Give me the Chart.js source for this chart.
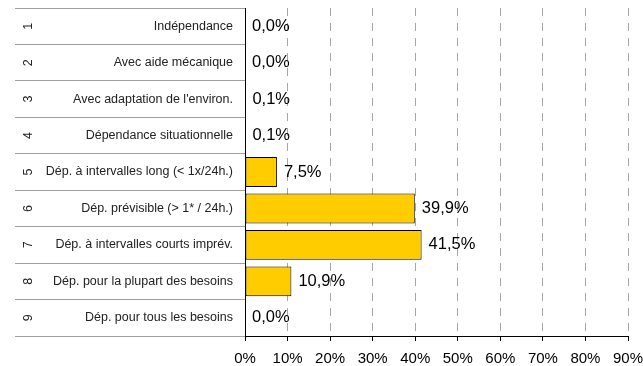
<!DOCTYPE html>
<html>
<head>
<meta charset="utf-8">
<script src="https://cdn.jsdelivr.net/npm/chart.js@4"></script>
<style>
	body { margin: 0; background: #fff; }
	canvas { display: block; }
</style>
</head>
<body>
<canvas id="canvas0" width="643" height="366"></canvas>
<script>
// data
const numbers = ['1', '2', '3', '4', '5', '6', '7', '8', '9'];
const categories = [
	'Indépendance',
	'Avec aide mécanique',
	"Avec adaptation de l'environ.",
	'Dépendance situationnelle',
	'Dép. à intervalles long (< 1x/24h.)',
	'Dép. prévisible (> 1* / 24h.)',
	'Dép. à intervalles courts imprév.',
	'Dép. pour la plupart des besoins',
	'Dép. pour tous les besoins'
];
const values = [0.0, 0.0, 0.1, 0.1, 7.5, 39.9, 41.5, 10.9, 0.0];
const xTicks = [0, 10, 20, 30, 40, 50, 60, 70, 80, 90];

const fontName = '"Liberation Sans", Arial, sans-serif';

// row numbers, rotated, in the left column
const rowNumbers = {
	id: 'rowNumbers',
	afterDraw(chart) {
		const ctx = chart.ctx;
		const yScale = chart.scales.y;
		ctx.save();
		ctx.fillStyle = '#222';
		ctx.font = '12.5px ' + fontName;
		ctx.textAlign = 'center';
		ctx.textBaseline = 'middle';
		numbers.forEach((n, i) => {
			ctx.save();
			ctx.translate(29, yScale.getPixelForValue(i));
			ctx.rotate(-Math.PI / 2);
			ctx.fillText(n, 0, 0);
			ctx.restore();
		});
		ctx.restore();
	}
};

// value labels at the end of the bars
const valueLabels = {
	id: 'valueLabels',
	afterDatasetsDraw(chart) {
		const ctx = chart.ctx;
		const meta = chart.getDatasetMeta(0);
		ctx.save();
		ctx.fillStyle = '#000';
		ctx.font = '16.5px ' + fontName;
		ctx.textAlign = 'left';
		ctx.textBaseline = 'middle';
		meta.data.forEach((bar, i) => {
			const txt = values[i].toFixed(1).replace('.', ',') + '%';
			ctx.fillText(txt, bar.x + 7, bar.y);
		});
		ctx.restore();
	}
};

const ctx = document.getElementById('canvas0').getContext('2d');

new Chart(ctx, {
	type: 'bar',
	data: {
		labels: categories,
		datasets: [{
			data: values,
			backgroundColor: '#FFCC00',
			borderColor: '#000',
			borderWidth: 1,
			borderSkipped: false,
			barPercentage: 0.82,
			categoryPercentage: 1
		}]
	},
	options: {
		indexAxis: 'y',
		responsive: false,
		animation: false,
		layout: { padding: { left: 15, right: 0, top: 8, bottom: 0 } },
		plugins: {
			legend: { display: false },
			tooltip: { enabled: false }
		},
		scales: {
			x: {
				min: 0,
				max: 90,
				afterBuildTicks(scale) {
					scale.ticks = xTicks.map(v => ({ value: v }));
				},
				afterFit(scale) {
					scale.height = 30;
					scale.paddingLeft = 0;
					scale.paddingRight = 15;
				},
				grid: {
					color: '#a6a6a6',
					lineWidth: 1,
					tickLength: 5,
					tickColor: '#000',
					tickBorderDash: []
				},
				border: { color: '#000', width: 1, dash: [8, 7] },
				ticks: {
					color: '#000',
					font: { family: fontName, size: 15 },
					padding: 9,
					maxRotation: 0,
					callback: v => v + '%'
				}
			},
			y: {
				afterFit(scale) { scale.width = 230; },
				grid: {
					offset: true,
					drawOnChartArea: false,
					tickLength: 230,
					color: '#a0a0a0',
					lineWidth: 1
				},
				border: { color: '#000', width: 1 },
				ticks: {
					color: '#222',
					font: { family: fontName, size: 12.5 },
					padding: -218,
					autoSkip: false
				}
			}
		}
	},
	plugins: [rowNumbers, valueLabels]
});
</script>
</body>
</html>
